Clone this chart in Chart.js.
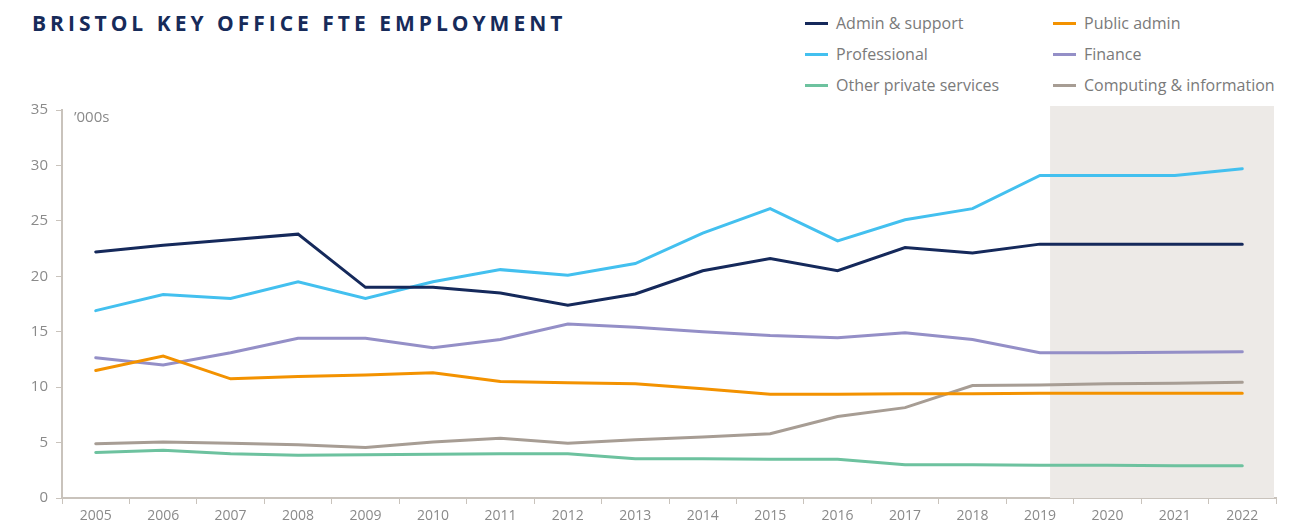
<!DOCTYPE html>
<html>
<head>
<meta charset="utf-8">
<script src="https://cdn.jsdelivr.net/npm/chart.js@4"></script>
<style>
  body { margin: 0; background: #fff; font-family: "Open Sans", sans-serif; }
  #wrap { position: relative; width: 1307px; height: 531px; }
  #title { position: absolute; left: 32px; top: 9px; font-size: 21px; font-weight: 700; letter-spacing: 4px; color: #172b5a; }
  #legend { position: absolute; left: 805px; top: 8px; width: 500px; }
  .item { position: absolute; font-size: 16px; color: #7a7a7a; white-space: nowrap; line-height: 30px; }
  .item span { display: inline-block; width: 23px; height: 3px; vertical-align: middle; margin-right: 8px; position: relative; top: -1px; }
  canvas { position: absolute; left: 0; top: 0; }
</style>
</head>
<body>
<div id="wrap">
  <div id="title">BRISTOL KEY OFFICE FTE EMPLOYMENT</div>
  <div id="legend"></div>
  <canvas id="myChart" width="1307" height="531"></canvas>
</div>
<script>
const years = ['2005', '2006', '2007', '2008', '2009', '2010', '2011', '2012', '2013', '2014', '2015', '2016', '2017', '2018', '2019', '2020', '2021', '2022'];
const yTicks = [0, 5, 10, 15, 20, 25, 30, 35];

const adminSupport = [22.2, 22.8, 23.3, 23.8, 19.0, 19.0, 18.5, 17.4, 18.4, 20.5, 21.6, 20.5, 22.6, 22.1, 22.9, 22.9, 22.9, 22.9];
const professional = [16.9, 18.35, 18.0, 19.5, 18.0, 19.5, 20.6, 20.1, 21.15, 23.9, 26.1, 23.2, 25.1, 26.1, 29.1, 29.1, 29.1, 29.7];
const otherPrivate = [4.1, 4.3, 4.0, 3.85, 3.9, 3.95, 4.0, 4.0, 3.55, 3.55, 3.5, 3.5, 3.0, 3.0, 2.95, 2.95, 2.9, 2.9];
const publicAdmin = [11.5, 12.8, 10.75, 10.95, 11.1, 11.3, 10.5, 10.4, 10.3, 9.85, 9.35, 9.35, 9.4, 9.4, 9.45, 9.45, 9.45, 9.45];
const finance = [12.65, 12.0, 13.1, 14.4, 14.4, 13.55, 14.3, 15.7, 15.4, 15.0, 14.65, 14.45, 14.9, 14.3, 13.1, 13.1, 13.15, 13.2];
const computing = [4.9, 5.05, 4.95, 4.8, 4.55, 5.05, 5.4, 4.95, 5.25, 5.5, 5.8, 7.35, 8.15, 10.15, 10.2, 10.3, 10.35, 10.45];

const series = [
  { label: 'Admin & support', data: adminSupport, color: '#15295b' },
  { label: 'Public admin', data: publicAdmin, color: '#f39200' },
  { label: 'Professional', data: professional, color: '#43c0ef' },
  { label: 'Finance', data: finance, color: '#948fc7' },
  { label: 'Other private services', data: otherPrivate, color: '#6dc29f' },
  { label: 'Computing & information', data: computing, color: '#a79d94' }
];

// html legend, two columns
const legend = document.getElementById('legend');
series.forEach((s, i) => {
  const d = document.createElement('div');
  d.className = 'item';
  d.style.left = (i % 2) * 248 + 'px';
  d.style.top = Math.floor(i / 2) * 31 + 'px';
  d.innerHTML = '<span style="background:' + s.color + '"></span>' + s.label;
  legend.appendChild(d);
});

const axisColor = '#c9c3bc';

const forecastShade = {
  id: 'forecastShade',
  beforeDatasetsDraw(chart) {
    const x = chart.scales.x;
    const area = chart.chartArea;
    const step = x.getPixelForValue(1) - x.getPixelForValue(0);
    const left = x.getPixelForValue(14) + step * 0.15;
    const c = chart.ctx;
    c.save();
    c.fillStyle = '#edeae7';
    c.fillRect(left, area.top - 4, area.right - 2 - left, area.bottom - area.top + 4);
    c.restore();
  },
  afterDraw(chart) {
    const c = chart.ctx;
    c.save();
    c.font = '15px "Open Sans"';
    c.fillStyle = '#8a8a8a';
    c.textBaseline = 'top';
    c.fillText('\u2019000s', chart.chartArea.left + 12, chart.chartArea.top);
    c.restore();
  }
};

new Chart(document.getElementById('myChart'), {
  type: 'line',
  data: {
    labels: years,
    datasets: series.map(s => ({
      label: s.label,
      data: s.data,
      borderColor: s.color,
      backgroundColor: s.color,
      borderWidth: 3,
      pointRadius: 0,
      tension: 0,
      borderCapStyle: 'round'
    }))
  },
  options: {
    responsive: false,
    animation: false,
    layout: { padding: { top: 110, right: 31, left: 0, bottom: 0 } },
    plugins: { legend: { display: false }, tooltip: { enabled: false } },
    scales: {
      x: {
        offset: true,
        grid: { offset: true, drawOnChartArea: false, drawTicks: true, tickLength: 6, color: axisColor },
        border: { color: axisColor, width: 2 },
        ticks: { color: '#8a8a8a', font: { family: 'Open Sans', size: 14 }, maxRotation: 0, autoSkip: false, padding: 4 },
        afterFit: s => { s.height = 33; }
      },
      y: {
        min: 0,
        max: 35,
        afterBuildTicks: s => { s.ticks = yTicks.map(v => ({ value: v })); },
        grid: { drawOnChartArea: false, drawTicks: true, tickLength: 6, color: axisColor },
        border: { color: axisColor, width: 2 },
        ticks: { color: '#8a8a8a', font: { family: 'Open Sans', size: 15 }, padding: 8 },
        afterFit: s => { s.width = 62; }
      }
    }
  },
  plugins: [forecastShade]
});
</script>
</body>
</html>
